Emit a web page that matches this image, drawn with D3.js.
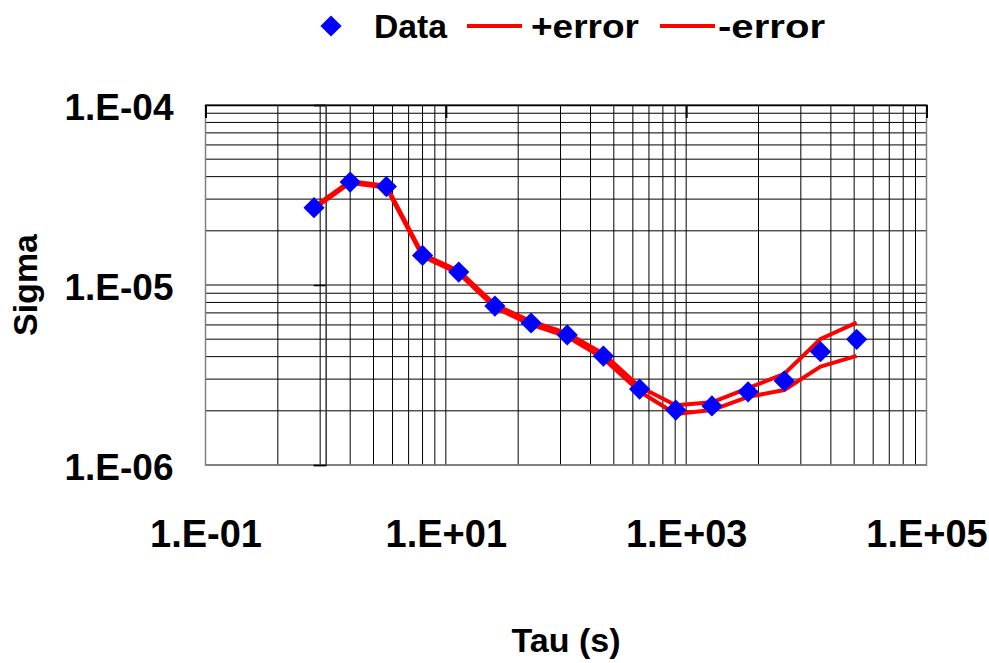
<!DOCTYPE html>
<html><head><meta charset="utf-8">
<script src="https://cdn.jsdelivr.net/npm/d3@7"></script>
<style>
body{margin:0;background:#fff;}
text{font-family:"Liberation Sans",Arial,sans-serif;font-weight:bold;fill:#000;}
</style></head>
<body>
<svg id="chart" width="989" height="663"></svg>
<script>
const tau = [0.8, 1.6, 3.2, 6.4, 12.8, 25.6, 51.2, 102.4, 204.8, 409.6, 819.2, 1638.4, 3276.8, 6553.6, 13107.2, 26214.4];
const sigma = [2.69e-5, 3.73e-5, 3.52e-5, 1.46e-5, 1.18e-5, 7.64e-6, 6.15e-6, 5.28e-6, 4.03e-6, 2.64e-6, 2.02e-6, 2.13e-6, 2.55e-6, 2.93e-6, 4.26e-6, 4.99e-6];
const plusError = [2.72e-5, 3.77e-5, 3.56e-5, 1.48e-5, 1.20e-5, 7.78e-6, 6.28e-6, 5.40e-6, 4.15e-6, 2.72e-6, 2.15e-6, 2.23e-6, 2.67e-6, 3.21e-6, 5.01e-6, 6.18e-6];
const minusError = [2.66e-5, 3.69e-5, 3.48e-5, 1.44e-5, 1.16e-5, 7.50e-6, 6.02e-6, 5.16e-6, 3.91e-6, 2.56e-6, 1.92e-6, 2.02e-6, 2.39e-6, 2.61e-6, 3.52e-6, 4.04e-6];
const xMajorTicks = [0.1, 10, 1000, 100000];
const xTickLabels = ["1.E-01", "1.E+01", "1.E+03", "1.E+05"];
const xMinorGrid = [0.4, 0.9, 1.6, 2.5, 3.6, 4.9, 6.4, 8.1, 40, 90, 160, 250, 360, 490, 640, 810, 4000, 9000, 16000, 25000, 36000, 49000, 64000, 81000];
const yMajorTicks = [1e-6, 1e-5, 1e-4];
const yTickLabels = ["1.E-06", "1.E-05", "1.E-04"];
const yMinorGrid = [2e-6, 3e-6, 4e-6, 5e-6, 6e-6, 7e-6, 8e-6, 9e-6, 2e-5, 3e-5, 4e-5, 5e-5, 6e-5, 7e-5, 8e-5, 9e-5];
const seriesNames = ["Data", "+error", "-error"];
const xTitle = "Tau (s)", yTitle = "Sigma";

const svg = d3.select("#chart");
const L = 205.5, R = 926.5, T = 105, B = 465;
const x = d3.scaleLog().domain([0.1, 1e5]).range([L, R]);
const y = d3.scaleLog().domain([1e-6, 1e-4]).range([B, T]);

// gridlines
const grid = svg.append("g");
grid.selectAll("line.vx").data(xMinorGrid.concat(xMajorTicks)).enter().append("line")
  .attr("x1", d => x(d)).attr("x2", d => x(d)).attr("y1", T).attr("y2", B)
  .attr("stroke", "#000").attr("stroke-width", 1);
grid.selectAll("line.hy").data(yMinorGrid.concat(yMajorTicks)).enter().append("line")
  .attr("x1", L).attr("x2", R).attr("y1", d => y(d)).attr("y2", d => y(d))
  .attr("stroke", "#000").attr("stroke-width", 1);
// plot border
svg.append("rect").attr("x", L).attr("y", T).attr("width", R - L).attr("height", B - T)
  .attr("fill", "none").attr("stroke", "#808080").attr("stroke-width", 1.5);

// x axis line at top with inside ticks
const xAxisTop = d3.axisBottom(x).tickValues(xMajorTicks).tickSize(13).tickFormat("");
svg.append("g").attr("transform", `translate(0,${T})`).call(xAxisTop)
  .call(g => g.select(".domain").attr("stroke", "#000").attr("stroke-width", 1.5))
  .call(g => g.selectAll(".tick line").attr("stroke", "#000").attr("stroke-width", 2));
// y axis line at x=1
const yAxisMid = d3.axisLeft(y).tickValues(yMajorTicks).tickSize(12).tickFormat("");
svg.append("g").attr("transform", `translate(${x(1)},0)`).call(yAxisMid)
  .call(g => g.select(".domain").attr("stroke", "#333").attr("stroke-width", 1.5))
  .call(g => g.selectAll(".tick line").attr("stroke", "#000").attr("stroke-width", 1.5));

// tick labels
const xLab = d3.axisBottom(x).tickValues(xMajorTicks).tickSize(0).tickPadding(55)
  .tickFormat((d, i) => xTickLabels[i]);
svg.append("g").attr("transform", `translate(0,${B})`).call(xLab)
  .call(g => g.select(".domain").remove())
  .call(g => g.selectAll("text").attr("font-size", 38).attr("font-family", "Liberation Sans, Arial, sans-serif").attr("font-weight", "bold").attr("fill", "#000"));
const yLab = d3.axisLeft(y).tickValues(yMajorTicks).tickSize(0).tickPadding(32)
  .tickFormat((d, i) => yTickLabels[i]);
svg.append("g").attr("transform", `translate(${L},0)`).call(yLab)
  .call(g => g.select(".domain").remove())
  .call(g => g.selectAll("text").attr("font-size", 37).attr("dy", "0.38em").attr("font-family", "Liberation Sans, Arial, sans-serif").attr("font-weight", "bold").attr("fill", "#000"));

// series lines
const line = d3.line().x(d => x(d[0])).y(d => y(d[1]));
[plusError, minusError].forEach(arr => {
  svg.append("path").datum(tau.map((t, i) => [t, arr[i]]))
    .attr("d", line).attr("fill", "none").attr("stroke", "#ff0000")
    .attr("stroke-width", 4).attr("stroke-linejoin", "round");
});
// markers
const diamond = d3.symbol().type(d3.symbolSquare).size(225);
svg.append("g").selectAll("path").data(tau.map((t, i) => [t, sigma[i]])).enter().append("path")
  .attr("d", diamond)
  .attr("transform", d => `translate(${x(d[0])},${y(d[1])}) rotate(45)`)
  .attr("fill", "#0000ff");

// legend
const leg = svg.append("g");
leg.append("path").attr("d", diamond).attr("transform", "translate(331,26) rotate(45)").attr("fill", "#0000ff");
leg.append("text").attr("x", 374).attr("y", 38).attr("font-size", 34).attr("textLength", 73).attr("lengthAdjust", "spacingAndGlyphs").text(seriesNames[0]);
leg.append("line").attr("x1", 467).attr("x2", 522).attr("y1", 26).attr("y2", 26).attr("stroke", "#ff0000").attr("stroke-width", 4);
leg.append("text").attr("x", 531).attr("y", 38).attr("font-size", 34).attr("textLength", 108).attr("lengthAdjust", "spacingAndGlyphs").text(seriesNames[1]);
leg.append("line").attr("x1", 660).attr("x2", 715).attr("y1", 26).attr("y2", 26).attr("stroke", "#ff0000").attr("stroke-width", 4);
leg.append("text").attr("x", 718).attr("y", 38).attr("font-size", 34).attr("textLength", 107).attr("lengthAdjust", "spacingAndGlyphs").text(seriesNames[2]);

// axis titles
svg.append("text").attr("x", (L + R) / 2).attr("y", 652).attr("text-anchor", "middle")
  .attr("font-size", 34).text(xTitle);
svg.append("text").attr("transform", `translate(37,${(T + B) / 2}) rotate(-90)`)
  .attr("text-anchor", "middle").attr("font-size", 34).text(yTitle);
</script>
</body></html>
